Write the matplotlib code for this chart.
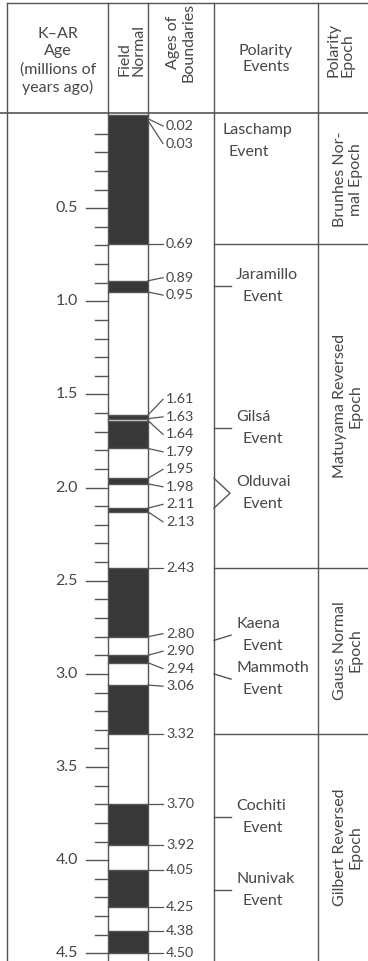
import numpy as np
import matplotlib.pyplot as plt

# normal polarity intervals (millions of years ago)
normal_start = [0.00, 0.89, 1.61, 1.64, 1.95, 2.11, 2.43, 2.90, 3.06, 3.70, 4.05, 4.38]
normal_end = [0.69, 0.95, 1.63, 1.79, 1.98, 2.13, 2.80, 2.94, 3.32, 3.92, 4.25, 4.50]

boundary_ages = [0.02, 0.03, 0.69, 0.89, 0.95, 1.61, 1.63, 1.64, 1.79, 1.95, 1.98,
                 2.11, 2.13, 2.43, 2.80, 2.90, 2.94, 3.06, 3.32, 3.70, 3.92, 4.05,
                 4.25, 4.38, 4.50]

event_names = ["Laschamp", "Jaramillo", "Gilsá", "Olduvai", "Kaena", "Mammoth",
               "Cochiti", "Nunivak"]
event_ages = [0.025, 0.92, 1.68, 2.03, 2.82, 3.00, 3.77, 4.16]
olduvai_span = (1.95, 2.11)

epoch_names = ["Brunhes Nor-\nmal Epoch", "Matuyama Reversed\nEpoch",
               "Gauss Normal\nEpoch", "Gilbert Reversed\nEpoch"]
epoch_bounds = [0.0, 0.69, 2.43, 3.32]

tick_major = [0.5, 1.0, 1.5, 2.0, 2.5, 3.0, 3.5, 4.0, 4.5]

TXT = "#474747"
LN = "#555555"
DARK = "#383838"
FONT = "Lato"
FS = 11.5
PX = 1 / 186.3  # one pixel in age units

W, H = 368, 961
HEAD = 113


def spread(vals, gap, top):
    pos = list(vals)
    for _ in range(300):
        for i in range(len(pos) - 1):
            if pos[i + 1] - pos[i] < gap:
                m = (pos[i] + pos[i + 1]) / 2
                pos[i], pos[i + 1] = m - gap / 2, m + gap / 2
        pos[0] = max(pos[0], top)
    return pos


fig = plt.figure(figsize=(W / 100, H / 100), dpi=100)
ax = fig.add_axes([0, 0, 1, (H - HEAD) / H])
hx = fig.add_axes([0, (H - HEAD) / H, 1, HEAD / H])
for a in (ax, hx):
    a.set_axis_off()
    a.set_xlim(0, W)

ax.set_ylim(4.541, -2 * PX)
hx.set_ylim(HEAD, 0)

# column rules
cols = [7, 108, 148, 214, 318]
for x in cols:
    ax.axvline(x, color=LN, lw=1.0)
    hx.plot([x, x], [3, HEAD], color=LN, lw=1.0)
hx.plot([7, W], [3, 3], color=LN, lw=1.0)
ax.axhline(-2 * PX, color=LN, lw=1.2, clip_on=False)

# header
hx.text(58, 61, "K–AR\nAge\n(millions of\nyears ago)", ha="center", va="center",
        fontsize=FS, color=TXT, family=FONT, linespacing=1.32)
hx.text(131, 50, "Field\nNormal", ha="center", va="center", rotation=90,
        multialignment="left", fontsize=FS, color=TXT, family=FONT, linespacing=1.0)
hx.text(181, 42, "Ages of\nBoundaries", ha="center", va="center", rotation=90,
        fontsize=FS, color=TXT, family=FONT, linespacing=1.1)
hx.text(266, 59, "Polarity\nEvents", ha="center", va="center",
        fontsize=FS, color=TXT, family=FONT, linespacing=1.1)
hx.text(340, 50, "Polarity\nEpoch", ha="center", va="center", rotation=90,
        multialignment="left", fontsize=FS, color=TXT, family=FONT, linespacing=1.0)

# age ticks
for t in np.arange(0.1, 4.55, 0.1):
    t = round(t, 1)
    major = t in tick_major
    ax.plot([86 if major else 95, 108], [t, t], color=LN, lw=1.0)
for t in tick_major:
    ax.text(78, t, "%.1f" % t, ha="right", va="center", fontsize=11.5,
            color=TXT, family=FONT)

# polarity strip
for s, e in zip(normal_start, normal_end):
    ax.fill_between([108, 148], s, e, color=DARK, lw=0)
    ax.plot([108, 148], [e, e], color=LN, lw=1.0)
    ax.plot([108, 148], [s, s], color=LN, lw=1.0)

# boundary labels with leaders
label_pos = spread(boundary_ages, 17.5 * PX, 11 * PX)
for age, lp in zip(boundary_ages, label_pos):
    ax.plot([148, 163], [age, lp], color=LN, lw=0.9)
    ax.text(166, lp, "%.2f" % age, ha="left", va="center", fontsize=10.3,
            color=TXT, family=FONT)

# polarity events
ev_pos = spread(event_ages, 44 * PX, 26 * PX)
for name, age, lp in zip(event_names, event_ages, ev_pos):
    if name == "Olduvai":
        s, e = olduvai_span
        ax.plot([214, 230, 214], [s, lp, e], color=LN, lw=1.0)
        x0 = 236
    elif age > 0.1:
        ax.plot([214, 231], [age, lp], color=LN, lw=1.0)
        x0 = 236
    else:
        x0 = 222
    ax.text(x0, lp - 11 * PX, name, ha="left", va="center", fontsize=FS,
            color=TXT, family=FONT)
    ax.text(x0 + 6, lp + 11 * PX, "Event", ha="left", va="center", fontsize=FS,
            color=TXT, family=FONT)

# epochs
ends = epoch_bounds[1:] + [ax.get_ylim()[0]]
for name, s, e in zip(epoch_names, epoch_bounds, ends):
    if s > 0:
        ax.plot([214, W], [s, s], color=LN, lw=1.0)
    ax.text(348, (s + e) / 2, name, ha="center", va="center", rotation=90,
            fontsize=FS, color=TXT, family=FONT, linespacing=1.1)

fig.savefig("out.png", dpi=100)
